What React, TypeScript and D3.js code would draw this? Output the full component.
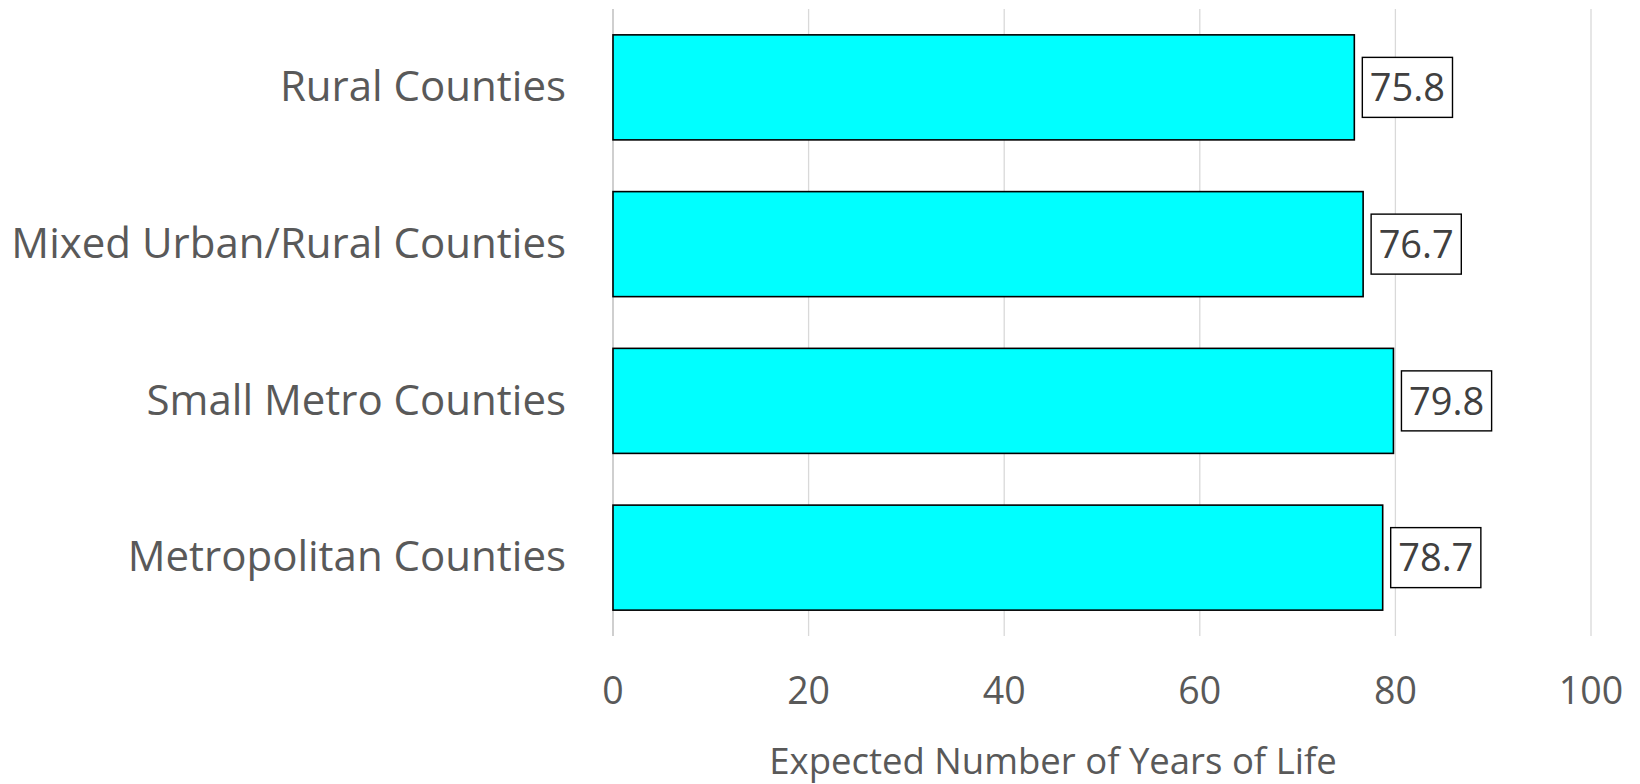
import React, { useEffect, useRef } from "react";
import * as d3 from "d3";

const categories = ["Rural Counties", "Mixed Urban/Rural Counties", "Small Metro Counties", "Metropolitan Counties"];
const values = [75.8, 76.7, 79.8, 78.7];
const xTicks = [0, 20, 40, 60, 80, 100];
const xTitle = "Expected Number of Years of Life";

const W = 1640;
const H = 784;
const FONT = "'Open Sans', sans-serif";
const TXT = "#595959";

export default function App() {
  const ref = useRef<SVGSVGElement>(null);
  useEffect(() => {
    const svg = d3.select(ref.current);
    svg.selectAll("*").remove();
    const x = d3.scaleLinear().domain([0, 100]).range([613, 1591]);
    const y = d3.scaleBand<string>().domain(categories).range([9, 636]).paddingInner(0.33).paddingOuter(0.165);

    // gridlines
    svg.append("g").selectAll("line").data(xTicks.slice(1)).join("line")
      .attr("x1", d => x(d)).attr("x2", d => x(d)).attr("y1", 9).attr("y2", 636)
      .attr("stroke", "#d9d9d9").attr("stroke-width", 1.3);
    svg.append("line").attr("x1", x(0)).attr("x2", x(0)).attr("y1", 9).attr("y2", 636)
      .attr("stroke", "#bfbfbf").attr("stroke-width", 1.5);

    // bars
    svg.append("g").selectAll("rect").data(categories).join("rect")
      .attr("x", x(0)).attr("y", d => y(d)!)
      .attr("width", (d, i) => x(values[i]) - x(0)).attr("height", y.bandwidth())
      .attr("fill", "#00ffff").attr("stroke", "#000").attr("stroke-width", 1.6);

    // value labels
    const lg = svg.append("g");
    categories.forEach((c, i) => {
      const cy = y(c)! + y.bandwidth() / 2;
      const g = lg.append("g");
      const t = g.append("text").attr("x", 0).attr("y", cy).attr("dy", "0.36em")
        .attr("font-family", FONT).attr("font-size", 38).attr("fill", "#404040")
        .text(values[i].toFixed(1));
      const tw = (t.node() as SVGTextElement).getComputedTextLength();
      const bw = tw + 15;
      const bx = x(values[i]) + 8;
      g.insert("rect", "text").attr("x", bx).attr("y", cy - 30).attr("width", bw).attr("height", 60)
        .attr("fill", "#fff").attr("stroke", "#000").attr("stroke-width", 1.4);
      t.attr("x", bx + bw / 2).attr("text-anchor", "middle");
    });

    // category labels
    svg.append("g").selectAll("text").data(categories).join("text")
      .attr("x", 566).attr("y", d => y(d)! + y.bandwidth() / 2).attr("dy", "0.33em")
      .attr("text-anchor", "end").attr("font-family", FONT).attr("font-size", 42).attr("fill", TXT)
      .text(d => d);

    // tick labels
    svg.append("g").selectAll("text").data(xTicks).join("text")
      .attr("x", d => x(d)).attr("y", 704)
      .attr("text-anchor", "middle").attr("font-family", FONT).attr("font-size", 37.5).attr("fill", TXT)
      .text(d => String(d));

    svg.append("text").attr("x", 1053).attr("y", 774)
      .attr("text-anchor", "middle").attr("font-family", FONT).attr("font-size", 36.5).attr("fill", TXT)
      .text(xTitle);
  }, []);
  return (
    <svg ref={ref} width={W} height={H} style={{ position: "absolute", left: 0, top: 0, background: "#fff" }} />
  );
}
